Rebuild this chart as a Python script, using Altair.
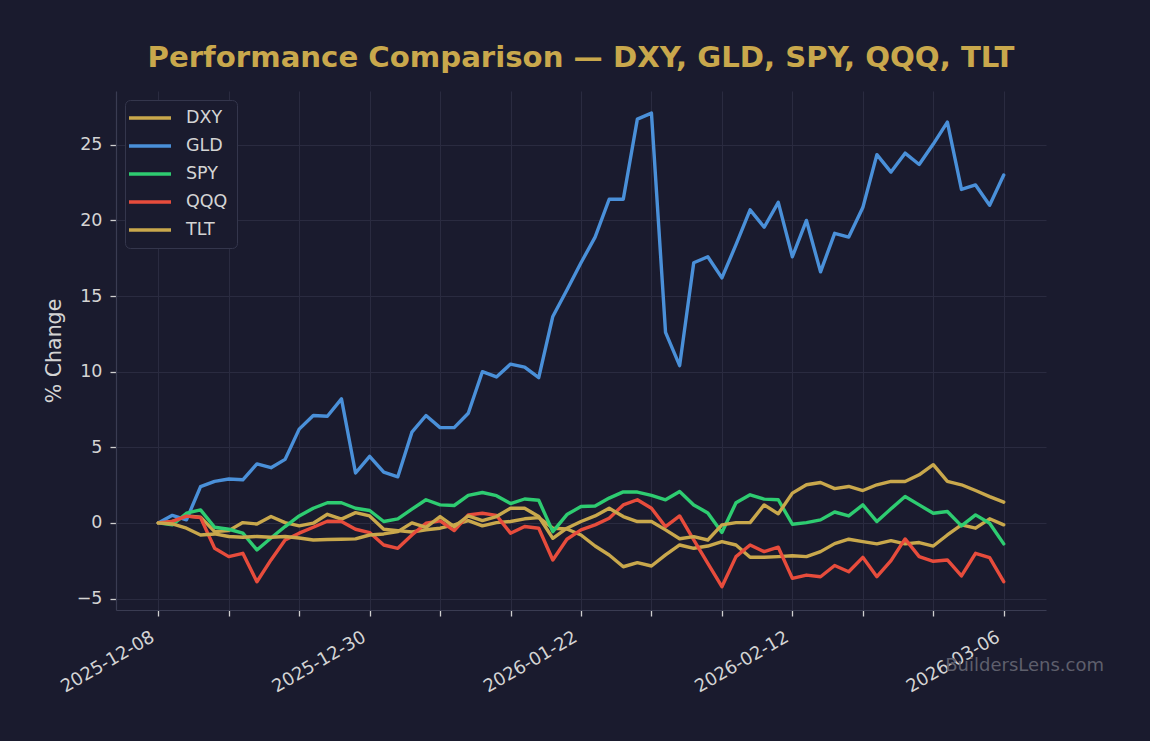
import json
import altair as alt
import pandas as pd

# Trading days on the x axis (equally spaced, one per session)
dates = [
    "2025-12-08", "2025-12-09", "2025-12-10", "2025-12-11", "2025-12-12",
    "2025-12-15", "2025-12-16", "2025-12-17", "2025-12-18", "2025-12-19",
    "2025-12-22", "2025-12-23", "2025-12-24", "2025-12-26", "2025-12-29",
    "2025-12-30", "2025-12-31", "2026-01-02", "2026-01-05", "2026-01-06",
    "2026-01-07", "2026-01-08", "2026-01-09", "2026-01-12", "2026-01-13",
    "2026-01-14", "2026-01-15", "2026-01-16", "2026-01-20", "2026-01-21",
    "2026-01-22", "2026-01-23", "2026-01-26", "2026-01-27", "2026-01-28",
    "2026-01-29", "2026-01-30", "2026-02-02", "2026-02-03", "2026-02-04",
    "2026-02-05", "2026-02-06", "2026-02-09", "2026-02-10", "2026-02-11",
    "2026-02-12", "2026-02-13", "2026-02-17", "2026-02-18", "2026-02-19",
    "2026-02-20", "2026-02-23", "2026-02-24", "2026-02-25", "2026-02-26",
    "2026-02-27", "2026-03-02", "2026-03-03", "2026-03-04", "2026-03-05",
    "2026-03-06",
]

# Cumulative % change since the first session
dxy = [
    0.0, 0.09, 0.46, 0.38, -0.58, -0.51, 0.02, -0.07, 0.42, 0.02,
    -0.2, -0.02, 0.57, 0.25, 0.68, 0.46, -0.42, -0.51, -0.6, -0.45,
    -0.35, -0.13, 0.15, -0.2, 0.02, 0.09, 0.27, 0.35, -0.35, -0.4,
    -0.8, -1.53, -2.12, -2.9, -2.63, -2.85, -2.12, -1.46, -1.68, -1.53,
    -1.24, -1.46, -2.27, -2.27, -2.23, -2.17, -2.23, -1.9, -1.37, -1.08,
    -1.24, -1.39, -1.17, -1.39, -1.3, -1.53, -0.8, -0.13, -0.35, 0.27,
    -0.13,
]
gld = [
    0.0, 0.5, 0.2, 2.4, 2.75, 2.9, 2.85, 3.9, 3.65, 4.2,
    6.2, 7.1, 7.05, 8.2, 3.3, 4.4, 3.35, 3.05, 6.0, 7.1,
    6.3, 6.3, 7.25, 10.0, 9.65, 10.5, 10.3, 9.6, 13.65, 15.4,
    17.2, 18.9, 21.4, 21.4, 26.7, 27.1, 12.6, 10.4, 17.2, 17.6,
    16.2, 18.4, 20.7, 19.55, 21.2, 17.6, 20.0, 16.6, 19.15, 18.9,
    20.85, 24.35, 23.2, 24.45, 23.7, 25.05, 26.5, 22.05, 22.35, 21.0,
    23.0,
]
spy = [
    0.0, -0.13, 0.64, 0.86, -0.29, -0.42, -0.68, -1.79, -1.0, -0.24,
    0.46, 0.97, 1.33, 1.33, 0.97, 0.82, 0.09, 0.27, 0.91, 1.53,
    1.19, 1.15, 1.82, 2.01, 1.8, 1.28, 1.58, 1.5, -0.58, 0.55,
    1.08, 1.12, 1.64, 2.05, 2.04, 1.82, 1.53, 2.08, 1.19, 0.66,
    -0.63, 1.33, 1.86, 1.57, 1.53, -0.09, 0.02, 0.2, 0.72, 0.46,
    1.19, 0.09, 0.93, 1.74, 1.19, 0.64, 0.75, -0.2, 0.53, -0.02,
    -1.39,
]
qqq = [
    0.0, 0.1, 0.45, 0.35, -1.68, -2.23, -2.01, -3.89, -2.45, -1.13,
    -0.68, -0.29, 0.11, 0.09, -0.42, -0.64, -1.46, -1.68, -0.8, -0.02,
    0.13, -0.51, 0.53, 0.64, 0.5, -0.68, -0.24, -0.35, -2.45, -1.08,
    -0.46, -0.13, 0.31, 1.19, 1.53, 0.97, -0.25, 0.46, -1.13, -2.67,
    -4.22, -2.23, -1.46, -1.9, -1.61, -3.67, -3.45, -3.56, -2.82, -3.23,
    -2.28, -3.56, -2.5, -1.06, -2.23, -2.54, -2.45, -3.51, -2.01, -2.3,
    -3.89,
]
tlt = [
    0.0, -0.07, -0.35, -0.8, -0.73, -0.9, -0.95, -0.9, -0.95, -0.9,
    -1.0, -1.13, -1.1, -1.08, -1.06, -0.8, -0.73, -0.58, 0.0, -0.3,
    0.42, -0.24, 0.46, 0.15, 0.42, 0.97, 0.97, 0.42, -1.02, -0.35,
    0.09, 0.46, 0.97, 0.42, 0.09, 0.09, -0.46, -1.05, -0.91, -1.13,
    -0.13, 0.02, 0.02, 1.19, 0.6, 1.97, 2.52, 2.67, 2.27, 2.41,
    2.14, 2.52, 2.74, 2.74, 3.18, 3.85, 2.74, 2.52, 2.14, 1.74,
    1.37,
]

tickers = ["DXY", "GLD", "SPY", "QQQ", "TLT"]
colors = ["#c9a84c", "#4a90d9", "#2ecc71", "#e74c3c", "#c9a84c"]
y_ticks = [-5, 0, 5, 10, 15, 20, 25]

BG = "#1a1b2e"
TEXT = "#d4d4d4"
FONT = "DejaVu Sans"

rows = []
for name, series in zip(tickers, [dxy, gld, spy, qqq, tlt]):
    for i, (d, v) in enumerate(zip(dates, series)):
        rows.append({"session": i, "date": d, "ticker": name, "pct": v})
df = pd.DataFrame(rows)

# ticks every 5 sessions, dated labels every 15
tick_sessions = list(range(0, len(dates), 5))
x_label_expr = f"datum.value % 15 === 0 ? {json.dumps(dates)}[datum.value] : ''"
y_label_expr = "datum.value < 0 ? '\u2212' + format(-datum.value, 'd') : format(datum.value, 'd')"

lines = alt.Chart(df).mark_line(strokeWidth=3.4, strokeJoin="round", strokeCap="round").encode(
    x=alt.X(
        "session:Q",
        scale=alt.Scale(domain=[-3, 63], nice=False, zero=False),
        axis=alt.Axis(
            values=tick_sessions,
            labelExpr=x_label_expr,
            labelAngle=-30,
            labelAlign="right",
            labelBaseline="top",
            labelOffset=-10,
            labelPadding=12,
            labelFontSize=18,
            labelOverlap=False,
            labelFlush=False,
            labelBound=False,
            tickSize=6,
            title=None,
            grid=True,
        ),
    ),
    y=alt.Y(
        "pct:Q",
        scale=alt.Scale(domain=[-5.76, 28.56], nice=False, zero=False),
        axis=alt.Axis(
            values=y_ticks,
            labelExpr=y_label_expr,
            labelPadding=8,
            labelFlush=False,
            tickSize=6,
            grid=True,
            title="% Change",
            titleFontSize=20.5,
            titleFontWeight="normal",
            titleColor=TEXT,
            titleAngle=270,
            titleAlign="center",
            titleBaseline="alphabetic",
            titleX=-56,
            titleY=259.5,
        ),
    ),
    color=alt.Color(
        "ticker:N",
        sort=tickers,
        scale=alt.Scale(domain=tickers, range=colors),
        legend=alt.Legend(
            title=None,
            orient="none",
            legendX=9,
            legendY=9,
            symbolType="M-3,0H3",
            symbolSize=196,
            symbolStrokeWidth=3.4,
            symbolOffset=7,
            labelOffset=27,
            labelFont=FONT,
            labelFontSize=17.5,
            labelColor=TEXT,
            rowPadding=10,
            padding=9,
            fillColor=BG,
            strokeColor="#34364c",
            cornerRadius=5,
        ),
    ),
)

watermark = alt.Chart(pd.DataFrame({"text": ["BuildersLens.com"]})).mark_text(
    align="right", baseline="alphabetic", fontSize=18, font=FONT, color="#5e5f6c"
).encode(x=alt.value(988), y=alt.value(580), text="text:N")

chart = alt.layer(lines, watermark).properties(
    width=930,
    height=519,
    background=BG,
    padding={"left": 116, "top": 91, "right": 104, "bottom": 131},
    autosize=alt.AutoSizeParams(type="none"),
    title=alt.TitleParams(
        "Performance Comparison \u2014 DXY, GLD, SPY, QQQ, TLT",
        font=FONT,
        fontSize=29.2,
        fontWeight="bold",
        color="#c9a84c",
        anchor="middle",
        baseline="alphabetic",
        offset=-5,
    ),
).configure_view(stroke=None, fill=BG).configure_axis(
    domainColor="#3a3c52",
    domainWidth=1.2,
    gridColor="#2a2b40",
    gridWidth=1,
    tickColor="#cfcfcf",
    tickWidth=1.3,
    labelColor=TEXT,
    labelFont=FONT,
    labelFontSize=17.5,
    titleFont=FONT,
)

chart.save("out.html", embed_options={"renderer": "svg", "actions": False})
